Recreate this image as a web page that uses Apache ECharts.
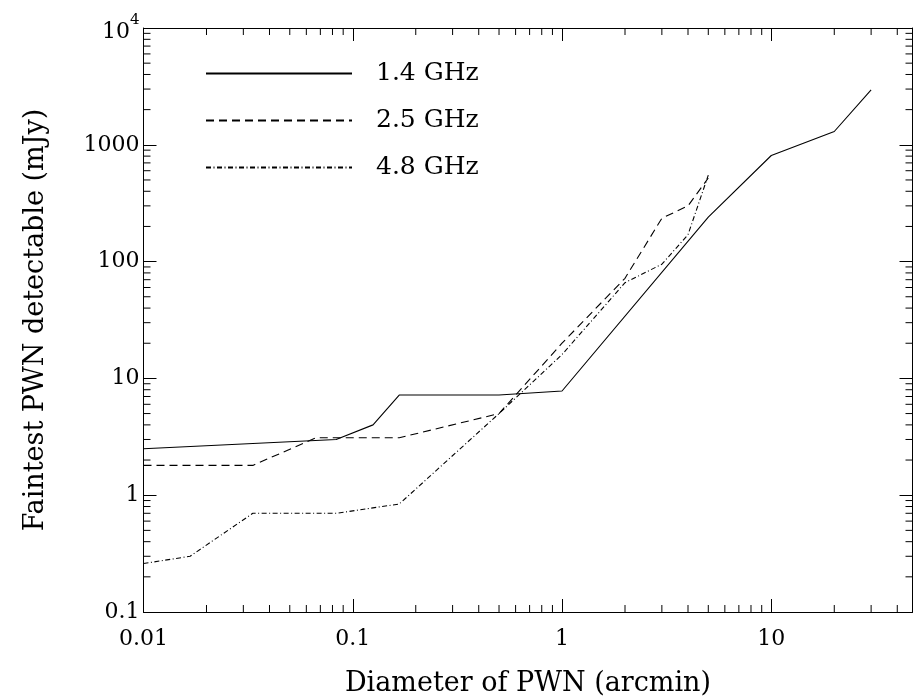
<!DOCTYPE html>
<html>
<head>
<meta charset="utf-8">
<script src="https://cdn.jsdelivr.net/npm/echarts@6/dist/echarts.min.js"></script>
<style>
html,body{margin:0;padding:0;background:#fff;}
#chart{width:914px;height:698px;}
</style>
</head>
<body>
<div id="chart"></div>
<script>
// ---- data ----
const x14 = [0.01, 0.0833, 0.125, 0.1667, 0.5, 1, 5, 10, 20, 30];
const y14 = [2.5, 3.0, 4.0, 7.2, 7.2, 7.8, 240, 810, 1300, 2950];

const x25 = [0.01, 0.0333, 0.0667, 0.1667, 0.5, 1, 2, 3, 4, 5];
const y25 = [1.8, 1.8, 3.1, 3.1, 5.0, 20, 72, 235, 300, 520];

const x48 = [0.01, 0.0167, 0.0333, 0.0833, 0.1667, 0.5, 1, 2, 3, 4, 5];
const y48 = [0.26, 0.30, 0.70, 0.70, 0.84, 5.0, 16, 66, 95, 170, 550];

const seriesNames = ['1.4 GHz', '2.5 GHz', '4.8 GHz'];

const xTickValues = [0.01, 0.1, 1, 10];
const xTickLabels = ['0.01', '0.1', '1', '10'];
const yTickValues = [0.1, 1, 10, 100, 1000, 10000];
const yTickLabels = ['0.1', '1', '10', '100', '1000', '{b|10}{sup|4}'];

const xTitle = 'Diameter of PWN (arcmin)';
const yTitle = 'Faintest PWN detectable (mJy)';

// ---- axis ranges ----
const X_MIN = 0.01, X_MAX = 47.3;
const Y_MIN = 0.1, Y_MAX = 10000;
const MAJOR = 13, MINOR = 7;
const FONT = 'DejaVu Serif';

function zip(xs, ys) { return xs.map((x, i) => [x, ys[i]]); }
function lookup(vals, labels, v) {
  for (let i = 0; i < vals.length; i++) {
    if (Math.abs(Math.log10(v) - Math.log10(vals[i])) < 1e-6) return labels[i];
  }
  return '';
}
function minorValues(lo, hi) {
  const out = [];
  for (let d = Math.floor(Math.log10(lo)); d <= Math.ceil(Math.log10(hi)); d++) {
    for (let m = 2; m <= 9; m++) {
      const v = m * Math.pow(10, d);
      if (v > lo && v < hi) out.push(v);
    }
  }
  return out;
}

const lineCommon = { type: 'line', showSymbol: false, symbol: 'none', animation: false, z: 3 };

function minorTickSeries(dim) {
  const vals = dim === 'x' ? minorValues(X_MIN, X_MAX) : minorValues(Y_MIN, Y_MAX);
  return {
    type: 'custom', silent: true, clip: false, animation: false, z: 4,
    data: vals.map(v => dim === 'x' ? [v, Y_MIN] : [X_MIN, v]),
    renderItem: function (params, api) {
      const st = { stroke: '#000', lineWidth: 1 };
      if (dim === 'x') {
        const v = api.value(0);
        const b = api.coord([v, Y_MIN]), t = api.coord([v, Y_MAX]);
        return { type: 'group', children: [
          { type: 'line', shape: { x1: b[0], y1: b[1], x2: b[0], y2: b[1] - MINOR }, style: st },
          { type: 'line', shape: { x1: t[0], y1: t[1], x2: t[0], y2: t[1] + MINOR }, style: st }
        ]};
      } else {
        const v = api.value(1);
        const l = api.coord([X_MIN, v]), r = api.coord([X_MAX, v]);
        return { type: 'group', children: [
          { type: 'line', shape: { x1: l[0], y1: l[1], x2: l[0] + MINOR, y2: l[1] }, style: st },
          { type: 'line', shape: { x1: r[0], y1: r[1], x2: r[0] - MINOR, y2: r[1] }, style: st }
        ]};
      }
    }
  };
}

const axisLineStyle = { show: true, lineStyle: { color: '#000', width: 1 } };
const tickStyle = { show: true, inside: true, length: MAJOR, lineStyle: { color: '#000', width: 1 } };

const chart = echarts.init(document.getElementById('chart'), null, { renderer: 'canvas' });
chart.setOption({
  backgroundColor: '#fff',
  animation: false,
  grid: { left: 143.5, right: 1.5, top: 28, bottom: 86, containLabel: false, outerBoundsMode: 'none' },
  legend: {
    data: seriesNames,
    orient: 'vertical',
    left: 200, top: 56,
    itemWidth: 146, itemHeight: 14, itemGap: 22,
    itemStyle: { opacity: 0 },
    textStyle: { fontFamily: FONT, fontSize: 25, color: '#000', lineHeight: 24, padding: [0, 0, 0, 19] },
    selectedMode: false
  },
  xAxis: [{
    type: 'log', logBase: 10, min: X_MIN, max: X_MAX, position: 'bottom',
    name: xTitle, nameLocation: 'middle', nameGap: 58,
    nameTextStyle: { fontFamily: FONT, fontSize: 27, color: '#000' },
    axisLine: axisLineStyle, axisTick: tickStyle, splitLine: { show: false },
    axisLabel: {
      fontFamily: FONT, fontSize: 22, color: '#000', margin: 16,
      showMaxLabel: false,
      formatter: v => lookup(xTickValues, xTickLabels, v)
    }
  }, {
    type: 'log', logBase: 10, min: X_MIN, max: X_MAX, position: 'top',
    axisLine: axisLineStyle, axisTick: tickStyle, splitLine: { show: false },
    axisLabel: { show: false }
  }],
  yAxis: [{
    type: 'log', logBase: 10, min: Y_MIN, max: Y_MAX, position: 'left',
    name: yTitle, nameLocation: 'middle', nameGap: 94, nameRotate: 90,
    nameTextStyle: { fontFamily: FONT, fontSize: 27, color: '#000' },
    axisLine: axisLineStyle, axisTick: tickStyle, splitLine: { show: false },
    axisLabel: {
      fontFamily: FONT, fontSize: 22, color: '#000', margin: 4,
      formatter: v => lookup(yTickValues, yTickLabels, v),
      rich: {
        b: { fontFamily: FONT, fontSize: 22, color: '#000', lineHeight: 30, verticalAlign: 'bottom' },
        sup: { fontFamily: FONT, fontSize: 15, color: '#000', lineHeight: 30, verticalAlign: 'top' }
      }
    }
  }, {
    type: 'log', logBase: 10, min: Y_MIN, max: Y_MAX, position: 'right',
    axisLine: axisLineStyle, axisTick: tickStyle, splitLine: { show: false },
    axisLabel: { show: false }
  }],
  series: [
    Object.assign({}, lineCommon, {
      name: seriesNames[0], data: zip(x14, y14),
      lineStyle: { color: '#000', width: 1.1, type: 'solid' }, itemStyle: { color: '#000' }
    }),
    Object.assign({}, lineCommon, {
      name: seriesNames[1], data: zip(x25, y25),
      lineStyle: { color: '#000', width: 1.1, type: [8, 5] }, itemStyle: { color: '#000' }
    }),
    Object.assign({}, lineCommon, {
      name: seriesNames[2], data: zip(x48, y48),
      lineStyle: { color: '#000', width: 1.1, type: [5, 2.5, 1, 2.5] }, itemStyle: { color: '#000' }
    }),
    minorTickSeries('x'),
    minorTickSeries('y')
  ]
});
</script>
</body>
</html>
